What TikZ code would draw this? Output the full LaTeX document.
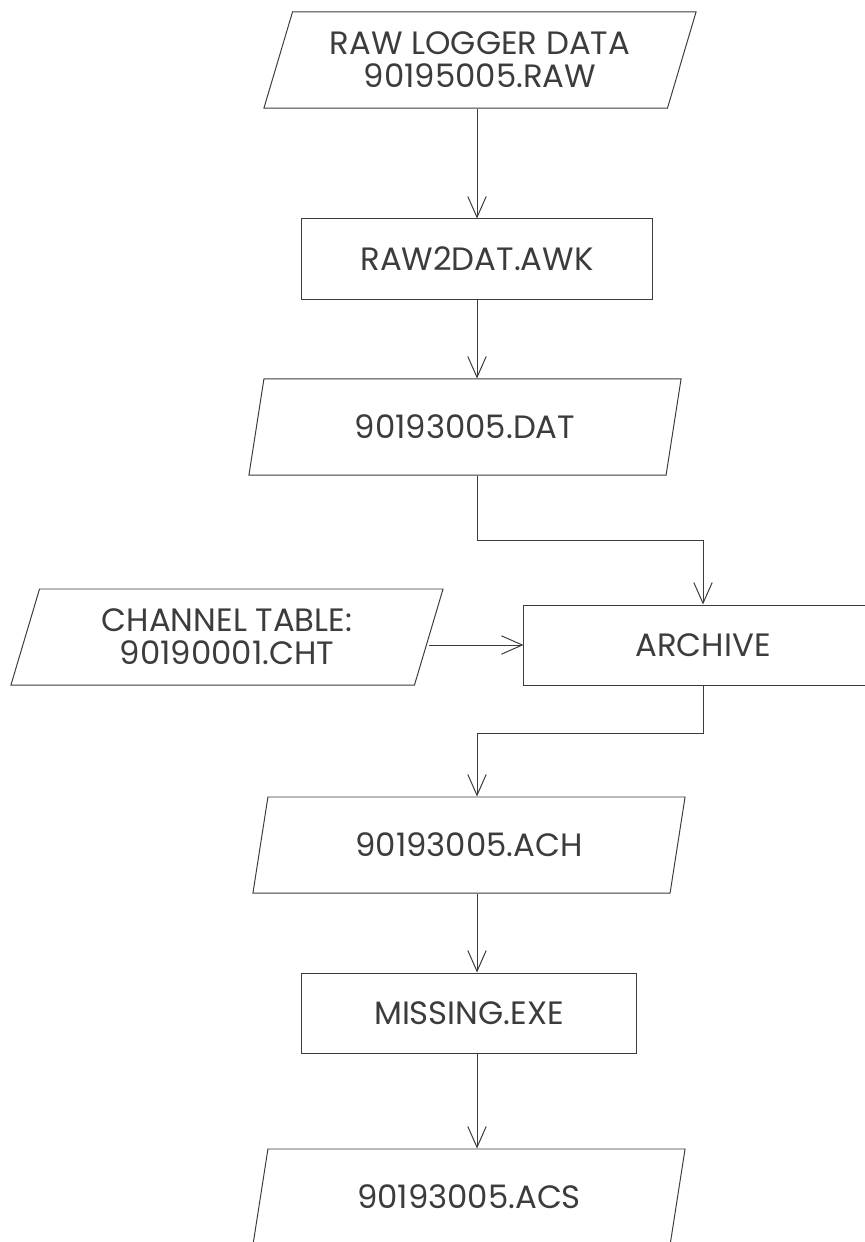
\documentclass[tikz,border=0pt]{standalone}
\usepackage{fontspec}
\setmainfont{Poppins}
\usepackage{tikz}
\usetikzlibrary{positioning,arrows.meta,shapes.geometric}
\definecolor{ink}{HTML}{3C3C3C}

\begin{document}
\begin{tikzpicture}[x=0.025cm, y=-0.025cm,
  every node/.style={font=\fontsize{23}{23.5}\selectfont, text=ink},
  iobox/.style  ={draw=ink, line width=0.7pt, trapezium,
                  trapezium left angle=67, trapezium right angle=113,
                  trapezium stretches body,
                  minimum width=10.8cm, minimum height=2.4cm,
                  align=center, inner sep=4pt},
  procbox/.style={draw=ink, line width=0.7pt, rectangle,
                  minimum height=2cm, align=center},
  arr/.style    ={-{Straight Barb[length=0.52cm, width=0.46cm]},
                  draw=ink, line width=0.7pt}]

%% ── Frame: page cut as in the scan ───────────────────────────────
\useasboundingbox (0,0) rectangle (865,1242);
\clip (0,0) rectangle (865,1242);
\coordinate (col) at (477,0);

%% ── Main column ──────────────────────────────────────────────────
\node[iobox] (raw) at (480,60) {RAW LOGGER DATA\\90195005.RAW};
\node[procbox, minimum width=8.75cm] (awk) at (477,259) {RAW2DAT.AWK};
\node[iobox] (dat) at (465,427) {90193005.DAT};

%% ── Archive step with channel table ──────────────────────────────
\node[iobox] (cht) at (227,637) {CHANNEL TABLE:\\90190001.CHT};
\node[procbox, minimum width=8.95cm] (arch) at (703,645) {ARCHIVE};

%% ── Lower column ─────────────────────────────────────────────────
\node[iobox] (ach) at (469,845) {90193005.ACH};
\node[procbox, minimum width=8.35cm] (miss) at (469,1013) {MISSING.EXE};
\node[iobox] (acs) at (469,1197) {90193005.ACS};

%% ── Arrows ───────────────────────────────────────────────────────
\draw[arr] (raw.south -| col) -- (awk.north -| col);
\draw[arr] (awk.south -| col) -- (dat.north -| col);
\draw[arr] (dat.south -| col) -- ++(0,65) -| (arch.north);
\draw[arr] (arch.west -| cht.east) -- (arch.west);
\draw[arr] (arch.south) -- ++(0,48) -| (ach.north -| col);
\draw[arr] (ach.south -| col) -- (miss.north -| col);
\draw[arr] (miss.south -| col) -- (acs.north -| col);
\end{tikzpicture}
\end{document}
